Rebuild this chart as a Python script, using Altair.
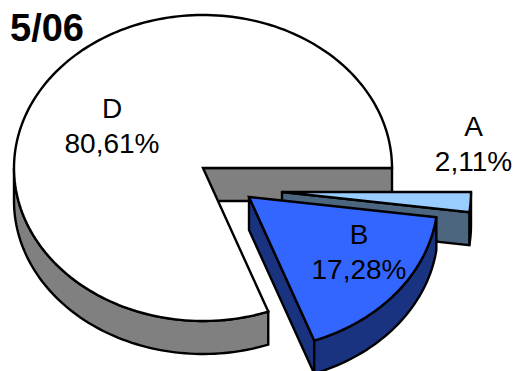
import math
import altair as alt
import pandas as pd

names = ["A", "B", "D"]
shares = [2.11, 17.28, 80.61]
share_labels = ["2,11%", "17,28%", "80,61%"]
top_colors = ["#99ccff", "#3366ff", "#ffffff"]
wall_colors = ["#4d6680", "#1a3380", "#808080"]
label_x = [473.5, 359, 112]
label_y = [128, 236, 110]
title_text = "5/06"

W, H = 506, 363
CX, CY, RX, RY, DEPTH = 203, 168, 189, 153, 33
offsets = {"A": (79, 24), "B": (46, 29), "D": (0, 0)}

# slice angles derived from the shares: A then B clockwise from 3 o'clock, D the rest
a_end = -shares[0] * 3.6
b_end = a_end - shares[1] * 3.6
d_end = -360 + 0  # closes at 3 o'clock
spans = {"A": (0, a_end), "B": (a_end, b_end), "D": (b_end, d_end)}


def pt(name, deg, drop=0):
    ox, oy = offsets[name]
    t = math.radians(deg)
    return (CX + ox + RX * math.cos(t), CY + oy - RY * math.sin(t) + drop)


def arc(name, a0, a1, drop=0):
    n = max(2, int(abs(a1 - a0) / 1.5))
    return [pt(name, a0 + (a1 - a0) * i / n, drop) for i in range(n + 1)]


def apex(name, drop=0):
    ox, oy = offsets[name]
    return (CX + ox, CY + oy + drop)


def band(name, a0, a1):
    return arc(name, a0, a1) + arc(name, a1, a0, DEPTH)


def radial(name, a):
    return [apex(name), pt(name, a), pt(name, a, DEPTH), apex(name, DEPTH)]


def top(name):
    a0, a1 = spans[name]
    return [apex(name)] + arc(name, a0, a1)


wall = dict(zip(names, wall_colors))
tops = dict(zip(names, top_colors))

pieces = [
    (radial("D", 0), wall["D"]),
    (band("D", -180, b_end), wall["D"]),
    (top("D"), tops["D"]),
    (band("A", 0, a_end), wall["A"]),
    (radial("A", a_end), wall["A"]),
    (top("A"), tops["A"]),
    (radial("B", b_end), wall["B"]),
    (band("B", a_end, b_end), wall["B"]),
    (top("B"), tops["B"]),
]

x_scale = alt.Scale(domain=[8, 8 + W], range=[0, W])
y_scale = alt.Scale(domain=[8 + H, 8], range=[H, 0])
x_enc = alt.X("x:Q", scale=x_scale, axis=None)
y_enc = alt.Y("y:Q", scale=y_scale, axis=None)

layers = []
for poly, color in pieces:
    closed = poly + [poly[0], poly[1]]
    df = pd.DataFrame({"x": [p[0] for p in closed], "y": [p[1] for p in closed], "i": range(len(closed))})
    layers.append(
        alt.Chart(df)
        .mark_line(fill=color, stroke="black", strokeWidth=2.4, strokeJoin="miter", clip=False, interpolate="linear")
        .encode(x=x_enc, y=y_enc, order="i:Q")
    )

font = "Liberation Sans"
txt = pd.DataFrame({
    "x": label_x + label_x,
    "y": label_y + [v + 35 for v in label_y],
    "t": names + share_labels,
})
layers.append(
    alt.Chart(txt)
    .mark_text(font=font, fontSize=28, color="black", align="center", baseline="middle")
    .encode(x=x_enc, y=y_enc, text="t:N")
)
title_df = pd.DataFrame({"x": [10], "y": [30], "t": [title_text]})
layers.append(
    alt.Chart(title_df)
    .mark_text(font=font, fontSize=38, fontWeight="bold", color="black", align="left", baseline="middle")
    .encode(x=x_enc, y=y_enc, text="t:N")
)

chart = (
    alt.layer(*layers)
    .properties(width=W, height=H, padding=0, autosize=alt.AutoSizeParams(type="none"))
    .configure_view(stroke=None)
)
chart.save("out.html", embed_options={"renderer": "svg", "actions": False})
